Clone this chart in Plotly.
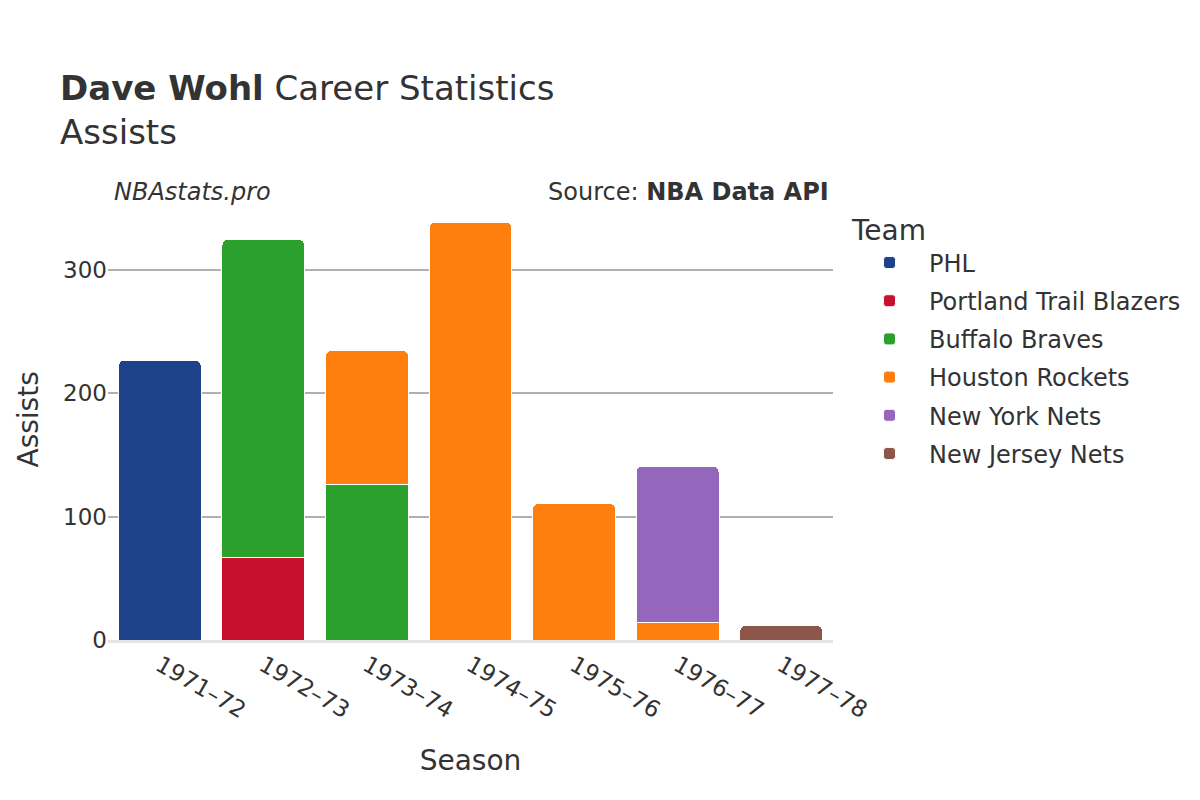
import plotly.graph_objects as go

seasons = ["1971–72", "1972–73", "1973–74", "1974–75", "1975–76", "1976–77", "1977–78"]

teams = ["PHL", "Portland Trail Blazers", "Buffalo Braves", "Houston Rockets", "New York Nets", "New Jersey Nets"]
colors = ["#1d428a", "#c8102e", "#2ca02c", "#ff7f0e", "#9467bd", "#8c564b"]

phl = [227, None, None, None, None, None, None]
portland = [None, 67, None, None, None, None, None]
buffalo = [None, 258, 126, None, None, None, None]
houston = [None, None, 109, 339, 111, 14, None]
ny_nets = [None, None, None, None, None, 127, None]
nj_nets = [None, None, None, None, None, None, 12]

series = [phl, portland, buffalo, houston, ny_nets, nj_nets]

fig = go.Figure()
for name, vals, col in zip(teams, series, colors):
    fig.add_trace(go.Bar(
        x=seasons, y=vals, name=name, legendgroup=name,
        marker=dict(color=col, line=dict(color="white", width=1)),
    ))

L, R, T, B = 100, 375, 192, 168
W, H = 1200, 800
plot_w = W - L - R
plot_h = H - T - B

def px_x(x):
    return (x - L) / plot_w

def px_y(y):
    return (H - B - y) / plot_h

font_family = "DejaVu Sans"
fig.update_layout(
    barmode="stack",
    barcornerradius=6,
    bargap=0.2,
    width=W, height=H,
    paper_bgcolor="white", plot_bgcolor="white",
    font=dict(family=font_family, color="#333333", size=20),
    margin=dict(l=L, r=R, t=T, b=B),
    title=dict(
        text="<b>Dave Wohl</b> Career Statistics<br>Assists",
        x=52 / W, xanchor="left", y=0.8855, yanchor="top",
        font=dict(size=34, color="#333333"),
    ),
    xaxis=dict(
        title=dict(text="Season", font=dict(size=28), standoff=29),
        tickangle=30, tickfont=dict(size=23),
        showline=True, linecolor="#e5e5e5", linewidth=3,
        ticks="", showgrid=False, automargin=False,
    ),
    yaxis=dict(
        tickfont=dict(size=23),
        showgrid=True, gridcolor="#b0b0b0", gridwidth=1.5,
        zeroline=False, ticks="", tickvals=[0, 100, 200, 300],
        automargin=False,
    ),
    legend=dict(
        title=dict(text="Team", font=dict(size=28)),
        font=dict(size=24),
        x=px_x(842), xanchor="left", y=1 - 4 / plot_h, yanchor="top",
        traceorder="grouped", tracegroupgap=4, itemwidth=69,
    ),
    annotations=[
        dict(text="Assists", x=px_x(1), y=px_y(412), xref="paper", yref="paper",
             showarrow=False, xanchor="left", yanchor="middle", textangle=-90,
             font=dict(size=28)),
        dict(text="<i>NBAstats.pro</i>", x=px_x(104), y=px_y(184), xref="paper", yref="paper",
             showarrow=False, xanchor="left", yanchor="middle", font=dict(size=24)),
        dict(text="Source: <b>NBA Data API</b>", x=px_x(823), y=px_y(184), xref="paper", yref="paper",
             showarrow=False, xanchor="right", yanchor="middle", font=dict(size=24)),
    ],
)

fig.write_html("out.html")
